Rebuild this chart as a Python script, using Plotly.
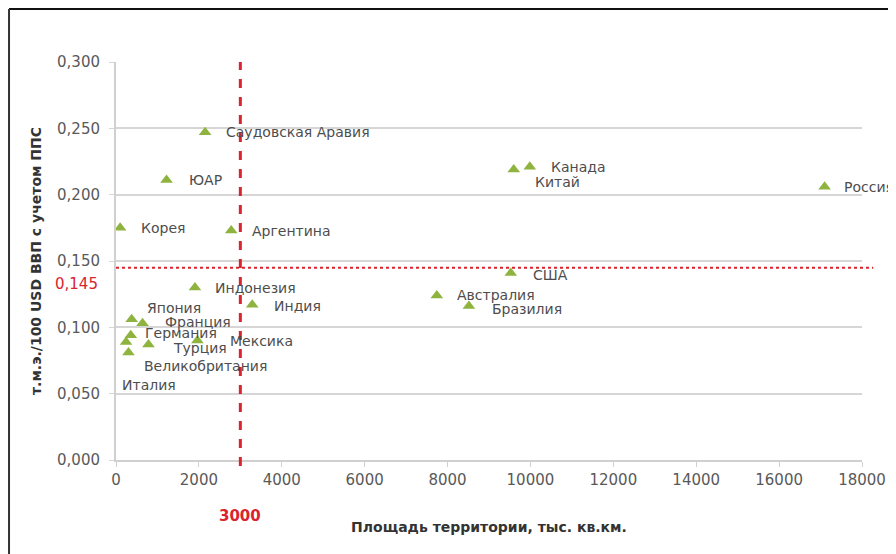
import plotly.graph_objects as go

countries = ["Саудовская Аравия", "ЮАР", "Корея", "Аргентина", "Индонезия", "Индия",
             "Япония", "Франция", "Германия", "Великобритания", "Италия", "Турция",
             "Мексика", "Канада", "Китай", "Россия", "США", "Австралия", "Бразилия"]
area = [2150, 1220, 100, 2780, 1905, 3287, 378, 640, 357, 243, 301, 784,
        1964, 9985, 9597, 17098, 9525, 7741, 8515]
intensity = [0.247, 0.211, 0.175, 0.173, 0.130, 0.117, 0.106, 0.103, 0.094, 0.089, 0.081, 0.087,
             0.090, 0.221, 0.219, 0.206, 0.141, 0.124, 0.116]

x_ticks = [0, 2000, 4000, 6000, 8000, 10000, 12000, 14000, 16000, 18000]
y_ticks = [0.0, 0.05, 0.10, 0.15, 0.20, 0.25, 0.30]
area_threshold = 3000
intensity_threshold = 0.145

# label offsets in pixels (dx right, dy down)
label_offsets = {
    "Саудовская Аравия": (19, 0), "ЮАР": (20, 0), "Корея": (19, 0), "Аргентина": (19, 1),
    "Индонезия": (18, 0), "Индия": (20, 1), "Япония": (13, -11), "Франция": (20, -1),
    "Германия": (12, -2), "Великобритания": (16, 24), "Италия": (-8, 32), "Турция": (23, 3),
    "Мексика": (31, 0), "Канада": (19, 0), "Китай": (19, 13), "Россия": (17, 0),
    "США": (20, 2), "Австралия": (18, 0), "Бразилия": (21, 3),
}

FONT = "DejaVu Sans"
GRAY = "#595959"
RED = "#d9232e"

fig = go.Figure()
fig.add_trace(go.Scatter(
    x=area, y=intensity, mode="markers",
    marker=dict(symbol="triangle-up", size=11, color="#8fb33f"),
    hoverinfo="text", text=countries, showlegend=False,
))

annotations = []
for c, xa, yi in zip(countries, area, intensity):
    dx, dy = label_offsets[c]
    annotations.append(dict(x=xa, y=yi, xref="x", yref="y", text=c, showarrow=False,
                            xanchor="left", yanchor="middle", xshift=dx, yshift=-dy,
                            font=dict(family=FONT, size=14, color="#4d4d4d")))

annotations.append(dict(x=0, y=intensity_threshold, xref="paper", yref="y", text="0,145",
                        showarrow=False, xanchor="right", yanchor="middle", xshift=-16, yshift=-16,
                        font=dict(family=FONT, size=15, color=RED)))
annotations.append(dict(x=area_threshold, y=0, xref="x", yref="paper", text="<b>3000</b>",
                        showarrow=False, xanchor="center", yanchor="middle", yshift=-56,
                        font=dict(family=FONT, size=15, color=RED)))

shapes = [
    dict(type="line", xref="x", yref="paper", x0=area_threshold, x1=area_threshold, y0=-0.015, y1=1,
         line=dict(color=RED, width=3, dash="dash")),
    dict(type="line", xref="paper", yref="y", x0=0, x1=1.015, y0=intensity_threshold, y1=intensity_threshold,
         line=dict(color=RED, width=2, dash="dot")),
    dict(type="line", xref="paper", yref="paper", x0=-0.1434, x1=1.2, y0=1.1332, y1=1.1332,
         line=dict(color="#111111", width=2)),
    dict(type="line", xref="paper", yref="paper", x0=-0.1434, x1=-0.1434, y0=1.1332, y1=-0.3,
         line=dict(color="#333333", width=2)),
]

fig.update_layout(
    width=896, height=554,
    margin=dict(l=108, r=42, t=54, b=102),
    paper_bgcolor="white", plot_bgcolor="white",
    separators=", ",
    font=dict(family=FONT, color=GRAY),
    annotations=annotations, shapes=shapes,
    xaxis=dict(range=[0, 18000], tickvals=x_ticks, ticktext=[str(v) for v in x_ticks],
               showgrid=False, zeroline=False, showline=True, linecolor="#d0d0d0", linewidth=2,
               ticks="outside", ticklen=5, tickcolor="#d0d0d0", tickwidth=1,
               tickfont=dict(family=FONT, size=15, color=GRAY),
               title=dict(text="<b>Площадь территории, тыс. кв.км.</b>", standoff=34,
                          font=dict(family=FONT, size=14, color="#333333"))),
    yaxis=dict(range=[0, 0.3], tickvals=y_ticks, tickformat=".3f",
               showgrid=True, gridcolor="#d6d6d6", gridwidth=2, zeroline=False,
               showline=True, linecolor="#d0d0d0", linewidth=2,
               ticks="outside", ticklen=5, tickcolor="#d6d6d6", ticklabelstandoff=6,
               tickfont=dict(family=FONT, size=15, color=GRAY),
               title=dict(text="<b>т.м.э./100 USD ВВП с учетом ППС</b>", standoff=12,
                          font=dict(family=FONT, size=14, color="#333333"))),
)

fig.write_html("out.html")
